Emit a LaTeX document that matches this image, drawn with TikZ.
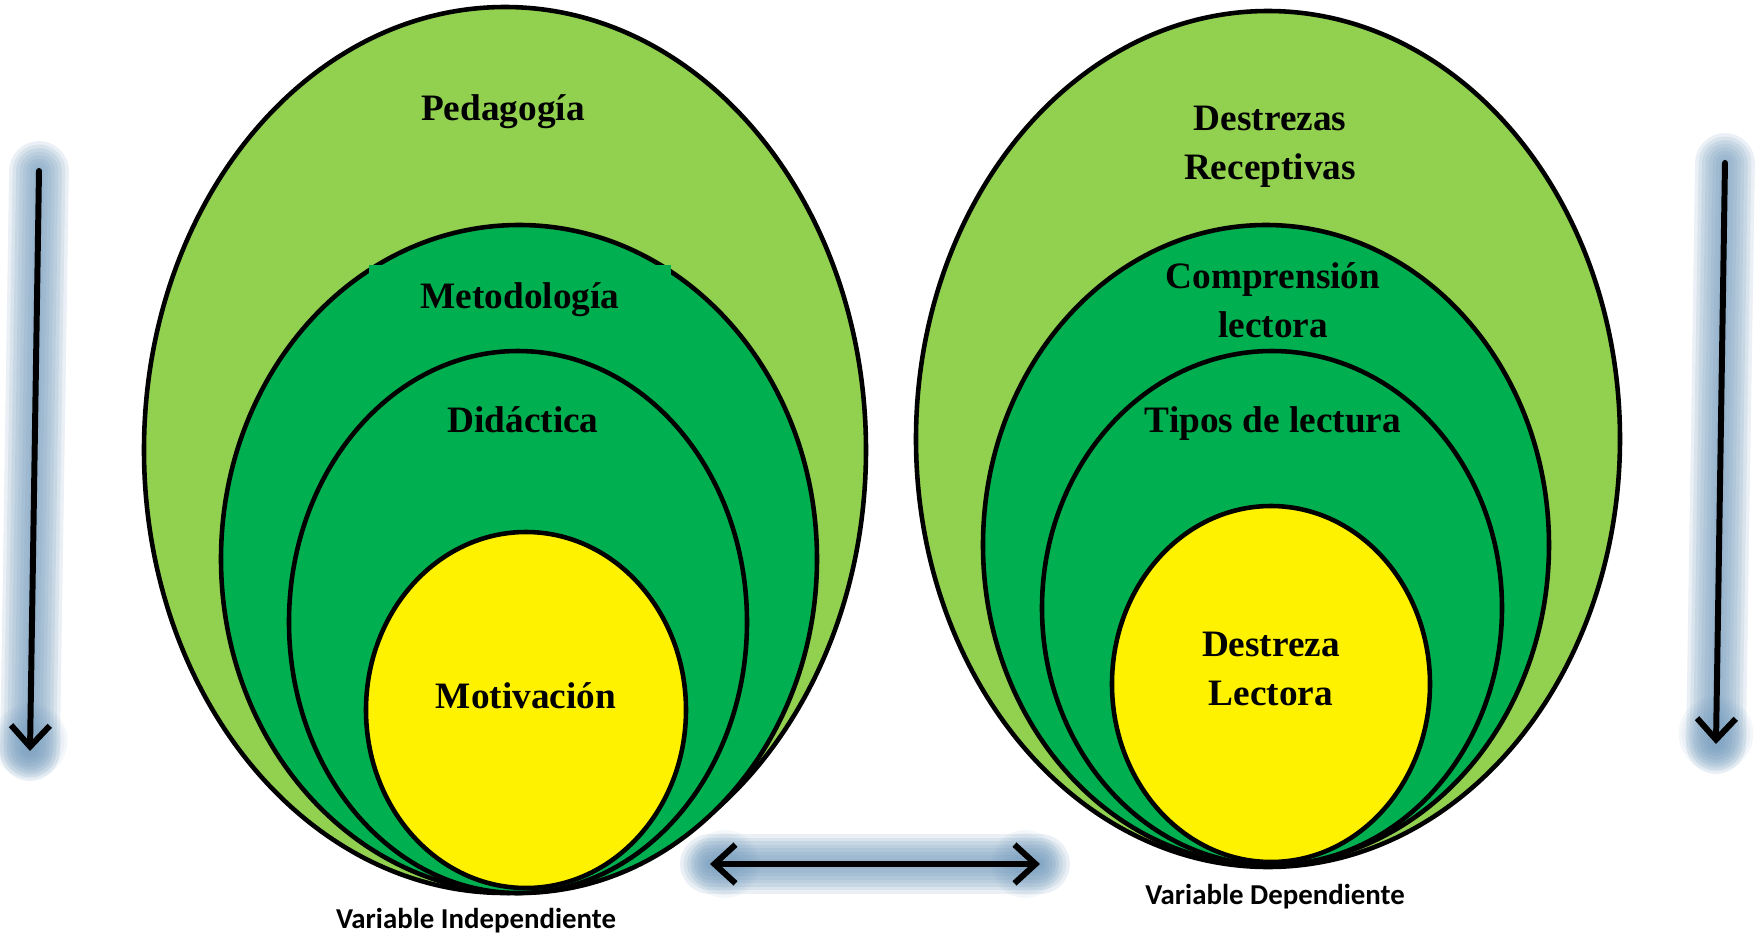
\documentclass[tikz,border=0pt]{standalone}
\usepackage{fontspec}
\setmainfont{Liberation Serif}
\newfontfamily\varfont{Carlito}
\usetikzlibrary{arrows.meta}

\definecolor{lightgreen}{RGB}{146,208,80}
\definecolor{midgreen}{RGB}{0,176,80}
\definecolor{glowblue}{RGB}{112,152,186}

\tikzset{
	ring/.style={draw=black, line width=1.3pt},
	ringtext/.style={font=\fontsize{10.6}{13.8}\selectfont\bfseries, align=center, inner sep=0pt},
	varlabel/.style={font=\varfont\fontsize{8.2}{10}\selectfont\bfseries, inner sep=0pt},
	flow/.style={line width=1.7pt, line cap=round, line join=round},
	glow/.style={draw=glowblue, line cap=round, opacity=0.15}
}

\begin{document}
\begin{tikzpicture}[x=0.01cm, y=-0.01cm]
		\useasboundingbox (0, 0) rectangle (1762, 939);
		% left set of ellipses
		\filldraw[ring, fill=lightgreen] (505, 450) ellipse [x radius=361, y radius=443];
		\filldraw[ring, fill=midgreen] (519, 559) ellipse [x radius=298, y radius=334];
		\filldraw[ring, fill=midgreen] (518, 622) ellipse [x radius=229, y radius=271];
		\filldraw[ring, fill=yellow] (526, 710) ellipse [x radius=160, y radius=178];
		% right set of ellipses
		\filldraw[ring, fill=lightgreen] (1268, 439) ellipse [x radius=352, y radius=428];
		\filldraw[ring, fill=midgreen] (1266, 545) ellipse [x radius=283, y radius=320];
		\filldraw[ring, fill=midgreen] (1272, 608) ellipse [x radius=230, y radius=257];
		\filldraw[ring, fill=yellow] (1271, 684) ellipse [x radius=159, y radius=178];

		\node[ringtext] (pedagogia) at (503, 112) {Pedagogía};
		\node[ringtext, fill=midgreen, minimum width=3.01cm, minimum height=0.7cm] (metodologia) at (520, 300) {Metodología};
		\node[ringtext] (didactica) at (523, 420) {Didáctica};
		\node[ringtext] (motivacion) at (526, 696) {Motivación};
		\node[ringtext] (receptivas) at (1270, 147) {Destrezas\\Receptivas};
		\node[ringtext] (comprension) at (1273, 300) {Comprensión\\lectora};
		\node[ringtext] (tipos) at (1273, 424) {Tipos de lectura};
		\node[ringtext] (lectora) at (1271, 669) {Destreza\\Lectora};

		\node[varlabel] (independiente) at (476, 921) {Variable Independiente};
		\node[varlabel] (dependiente) at (1275, 897) {Variable Dependiente};

		% arrows with glow
		\coordinate (ltop) at (39, 171);
		\coordinate (lbot) at (30, 751);
		\coordinate (rtop) at (1725, 163);
		\coordinate (rbot) at (1716, 744);
		\coordinate (mleft) at (710, 864);
		\coordinate (mright) at (1040, 864);
		\foreach \w in {3, 5, ..., 17}
		{
			\draw[glow, line width=\w pt] (ltop) -- (lbot);
			\draw[glow, line width=\w pt] (rtop) -- (rbot);
			\draw[glow, line width=\w pt] (mleft) -- (mright);
			\fill[glowblue, opacity=0.08] (lbot) ++(0, -10) circle [radius=0.45*\w pt + 3pt];
			\fill[glowblue, opacity=0.08] (rbot) ++(0, -10) circle [radius=0.45*\w pt + 3pt];
			\fill[glowblue, opacity=0.08] (mleft) ++(15, 0) circle [radius=0.45*\w pt + 2pt];
			\fill[glowblue, opacity=0.08] (mright) ++(-15, 0) circle [radius=0.45*\w pt + 2pt];
		}
		\draw[flow, -{Straight Barb[length=6pt, width=11pt]}] (ltop) -- (lbot);
		\draw[flow, -{Straight Barb[length=6pt, width=11pt]}] (rtop) -- (rbot);
		\draw[flow, {Straight Barb[length=6pt, width=11pt]}-{Straight Barb[length=6pt, width=11pt]}] (mleft) -- (mright);
	\end{tikzpicture}
\end{document}
